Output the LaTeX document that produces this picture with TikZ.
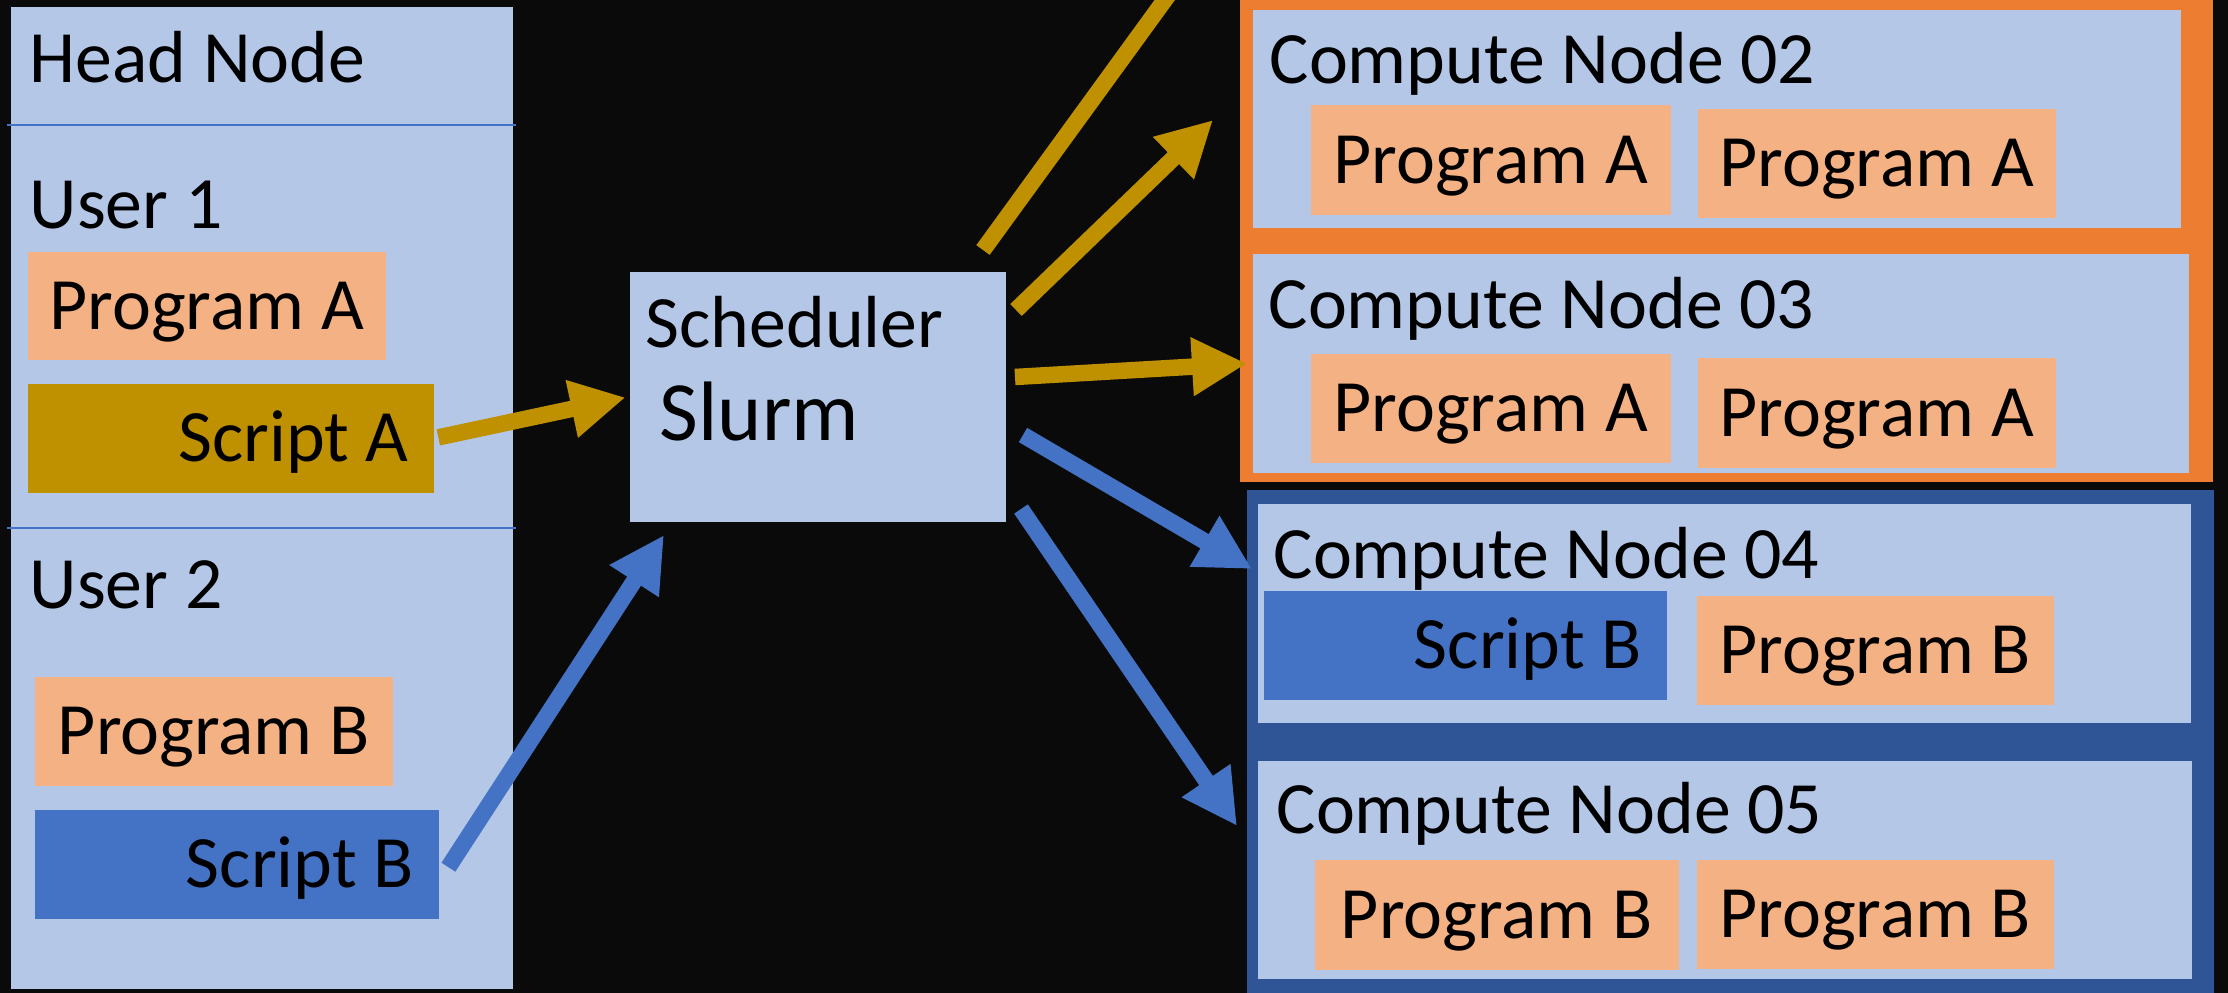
\documentclass[tikz,border=0pt]{standalone}
\usepackage{fontspec}
\setmainfont{Carlito}
\usetikzlibrary{arrows.meta,calc}

\definecolor{nightbg}{RGB}{10,10,10}
\definecolor{paleblue}{RGB}{180,199,231}
\definecolor{salmon}{RGB}{244,177,131}
\definecolor{gold}{RGB}{191,144,0}
\definecolor{scriptblue}{RGB}{68,114,196}
\definecolor{grouporange}{RGB}{237,125,49}
\definecolor{groupblue}{RGB}{47,85,151}

\newcommand\nodefont{\fontsize{21pt}{25pt}\selectfont}
\newcommand\bigslurm{\fontsize{24pt}{29pt}\selectfont}

\tikzset{
	sz/.style 2 args={minimum width=#1cm, minimum height=#2cm},
	panel/.style={fill=paleblue, inner sep=0pt, anchor=north west},
	prog/.style={fill=salmon, inner sep=0pt, anchor=north west, font=\nodefont, text height=13.5pt, text depth=0pt},
	script/.style={inner sep=0pt, inner xsep=0.25cm, anchor=north west, font=\nodefont, text height=13.5pt, text depth=0pt},
	lbl/.style={anchor=base west, inner sep=0pt, font=\nodefont},
	sepline/.style={draw=scriptblue, line width=0.8pt},
	goldarrow/.style={draw=gold, line width=0.165cm, -{Triangle[length=5.5mm,width=5.5mm]}},
	bluearrow/.style={draw=scriptblue, line width=0.165cm, -{Triangle[length=5.5mm,width=5.5mm]}}
}

\begin{document}
\begin{tikzpicture}
	\clip (0,0) rectangle (22.28,-9.93);
	\fill[nightbg] (0,0) rectangle (22.28,-9.93);

	% head node
	\node[panel, sz={5.015}{9.82}] (head) at (0.105,-0.06) {};
	\draw[sepline] (0.07,-1.25) -- (5.16,-1.25);
	\draw[sepline] (0.07,-5.28) -- (5.16,-5.28);
	\node[lbl] (headlbl) at (0.29,-0.82) {Head Node};
	\node[lbl] (user1) at (0.29,-2.28) {User 1};
	\node[prog, sz={3.58}{1.08}] (progA) at (0.27,-2.51) {Program A};
	\node[script, fill=gold, minimum height=1.09cm] (scriptA) at (0.27,-3.83) {\makebox[3.56cm][r]{Script A}};
	\node[lbl] (user2) at (0.29,-6.08) {User 2};
	\node[prog, sz={3.58}{1.09}] (progB) at (0.34,-6.76) {Program B};
	\node[script, fill=scriptblue, minimum height=1.09cm] (scriptB) at (0.34,-8.09) {\makebox[3.54cm][r]{Script B}};

	% scheduler
	\node[panel, sz={3.76}{2.50}] (sched) at (6.29,-2.71) {};
	\node[lbl] (schedlbl) at (6.45,-3.47) {Scheduler};
	\node[lbl, font=\bigslurm] (slurm) at (6.59,-4.40) {Slurm};

	% compute nodes running A
	\node[panel, fill=grouporange, sz={9.73}{4.91}] (grpA) at (12.39,0.10) {};
	\node[panel, sz={9.28}{2.175}] (cn02) at (12.52,-0.095) {};
	\node[lbl] (cn02lbl) at (12.69,-0.84) {Compute Node 02};
	\node[prog, sz={3.60}{1.10}] (cn02a) at (13.10,-1.04) {Program A};
	\node[prog, sz={3.58}{1.09}] (cn02b) at (16.97,-1.08) {Program A};
	\node[panel, sz={9.36}{2.19}] (cn03) at (12.52,-2.53) {};
	\node[lbl] (cn03lbl) at (12.68,-3.28) {Compute Node 03};
	\node[prog, sz={3.60}{1.09}] (cn03a) at (13.10,-3.53) {Program A};
	\node[prog, sz={3.58}{1.10}] (cn03b) at (16.97,-3.57) {Program A};

	% compute nodes running B
	\node[panel, fill=groupblue, sz={9.67}{5.10}] (grpB) at (12.46,-4.89) {};
	\node[panel, sz={9.33}{2.19}] (cn04) at (12.57,-5.03) {};
	\node[lbl] (cn04lbl) at (12.73,-5.78) {Compute Node 04};
	\node[script, fill=scriptblue, minimum height=1.09cm] (cn04s) at (12.63,-5.90) {\makebox[3.53cm][r]{Script B}};
	\node[prog, sz={3.57}{1.09}] (cn04p) at (16.96,-5.95) {Program B};
	\node[panel, sz={9.34}{2.18}] (cn05) at (12.57,-7.60) {};
	\node[lbl] (cn05lbl) at (12.76,-8.33) {Compute Node 05};
	\node[prog, sz={3.64}{1.10}] (cn05a) at (13.14,-8.59) {Program B};
	\node[prog, sz={3.57}{1.09}] (cn05b) at (16.96,-8.59) {Program B};

	% submit
	\coordinate (subB) at (6.64,-5.35);
	\draw[goldarrow, shorten <=0.04cm, shorten >=0.035cm] (scriptA.east) -- (sched.west);
	\draw[bluearrow] ($(scriptB.east)+(0.09,-0.03)$) -- (subB);

	% dispatch
	\coordinate (out1) at (9.83,-2.50);
	\coordinate (out2) at (10.16,-3.10);
	\coordinate (out3) at (10.15,-3.77);
	\coordinate (out4) at (10.23,-4.35);
	\coordinate (out5) at (10.21,-5.09);
	\coordinate (to01) at (11.72,0.10);
	\coordinate (to02) at (12.13,-1.20);
	\coordinate (to04) at (12.52,-5.69);
	\coordinate (to05) at (12.37,-8.26);
	\draw[draw=gold, line width=0.165cm] (out1) -- (to01);
	\draw[goldarrow] (out2) -- (to02);
	\draw[goldarrow, shorten >=0.05cm] (out3) -- (cn03.west);
	\draw[bluearrow] (out4) -- (to04);
	\draw[bluearrow] (out5) -- (to05);
\end{tikzpicture}
\end{document}
